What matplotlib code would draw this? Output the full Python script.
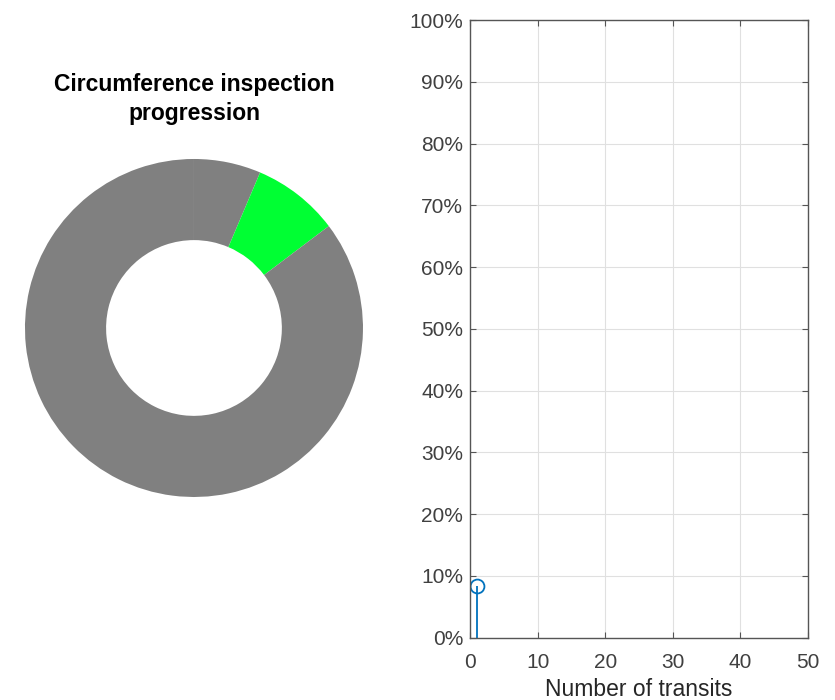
import matplotlib
matplotlib.use("Agg")
import matplotlib.pyplot as plt
from matplotlib.ticker import FuncFormatter, MultipleLocator

plt.rcParams['font.family'] = ['Liberation Sans', 'DejaVu Sans']

# Circumference coverage (percent of the full circle), clockwise from the top
sector_labels = ["before", "inspected", "remaining"]
sector_values = [6.4, 8.3, 85.3]
sector_colors = ["#808080", "#00FF33", "#808080"]

# Inspection progress per transit
transits = [1]
progress_pct = [8.3]

fig = plt.figure(figsize=(8.35, 7.0), dpi=100)

# Donut of circumference progression
ax_pie = fig.add_axes([0.2323 - 0.2024, 0.5314 - 0.2414, 0.4048, 0.4829])
ax_pie.pie(sector_values, colors=sector_colors, startangle=90, counterclock=False,
           radius=1.0, wedgeprops=dict(width=0.48, linewidth=0))
ax_pie.set_xlim(-1, 1)
ax_pie.set_ylim(-1, 1)
ax_pie.set_aspect('equal')
ax_pie.axis('off')
fig.text(0.2323, 1 - 99 / 700, "Circumference inspection\nprogression",
         ha='center', va='center', fontsize=16.5, fontweight='bold', linespacing=1.32)

# Stem plot of progress vs transits
edge = '#404040'
ax = fig.add_axes([470 / 835, 1 - 637.7 / 700, 338 / 835, (637.7 - 20) / 700])
markerline, stemlines, baseline = ax.stem(transits, progress_pct, basefmt=' ')
plt.setp(stemlines, color='#0072BD', linewidth=1.3)
plt.setp(markerline, color='#0072BD', marker='o', markerfacecolor='none',
         markersize=10, markeredgewidth=1.3)
ax.set_xlim(0, 50)
ax.set_ylim(0, 100)
ax.xaxis.set_major_locator(MultipleLocator(10))
ax.yaxis.set_major_locator(MultipleLocator(10))
ax.yaxis.set_major_formatter(FuncFormatter(lambda v, p: f"{v:.0f}%"))
ax.grid(True, color='#e0e0e0', linewidth=0.8)
ax.set_axisbelow(True)
ax.tick_params(direction='in', top=True, right=True, length=4, width=0.8,
               colors='#555555', labelsize=15, labelcolor=edge)
ax.tick_params(axis='x', pad=11)
ax.tick_params(axis='y', pad=5)
for s in ax.spines.values():
    s.set_color('#555555')
    s.set_linewidth(1.0)
ax.set_xlabel("Number of transits", fontsize=16.5, color='#262626', labelpad=4)

fig.savefig("out.png", dpi=100)
